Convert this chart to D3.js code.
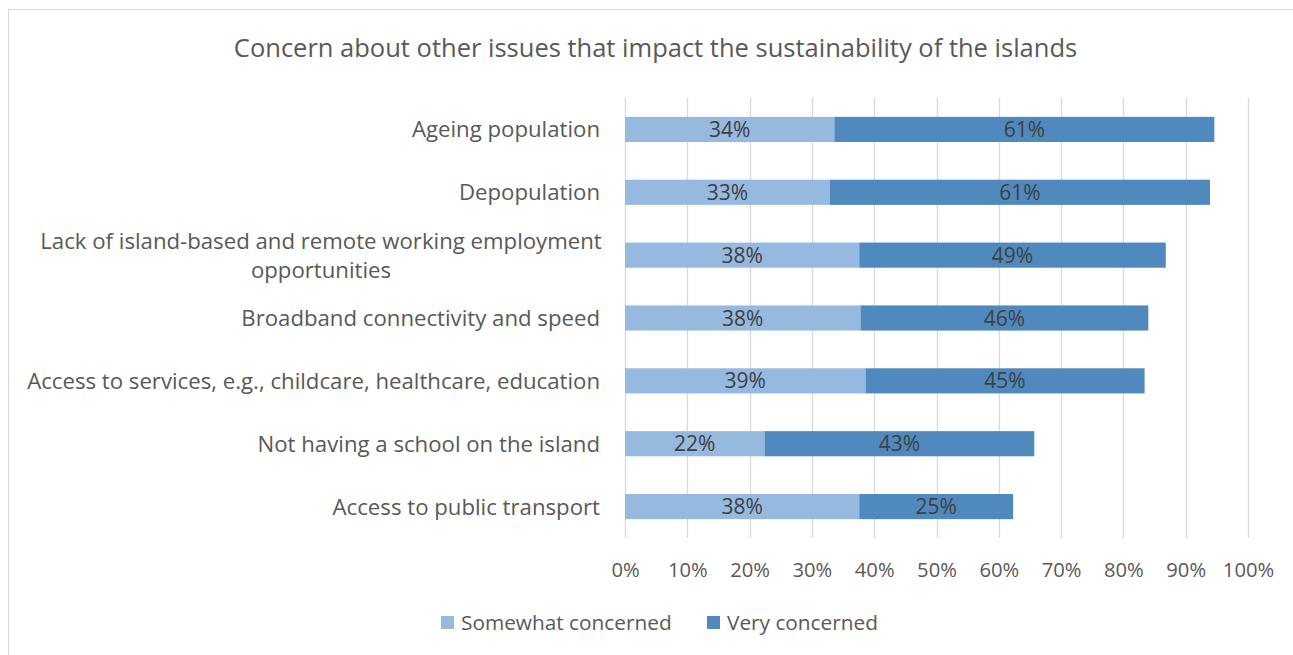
<!DOCTYPE html>
<html>
<head>
<meta charset="utf-8">
<script src="https://cdn.jsdelivr.net/npm/d3@7"></script>
<style>
  html, body { margin: 0; padding: 0; background: #fff; }
  svg { display: block; font-family: "Open Sans", "Noto Sans", sans-serif; }
</style>
</head>
<body>
<svg id="chart" width="1293" height="655"></svg>
<script>
// Survey issues, top to bottom
const categories = [
  "Ageing population",
  "Depopulation",
  "Lack of island-based and remote working employment opportunities",
  "Broadband connectivity and speed",
  "Access to services, e.g., childcare, healthcare, education",
  "Not having a school on the island",
  "Access to public transport"
];
// Share of respondents (%) per concern level
const somewhatConcerned = [33.6, 32.9, 37.6, 37.8, 38.6, 22.4, 37.6];
const veryConcerned     = [61.0, 61.0, 49.2, 46.2, 44.8, 43.3, 24.7];
const seriesNames = ["Somewhat concerned", "Very concerned"];
const seriesColors = ["#96B9E0", "#4F89BE"];
const tickValues = [0, 10, 20, 30, 40, 50, 60, 70, 80, 90, 100];

const svg = d3.select("#chart");
const W = 1293, H = 655;
const plot = { left: 625, right: 1248, top: 98, bottom: 538 };
const textColor = "#595959";
const catFont = 22.2;

// Outer chart frame
svg.append("rect")
  .attr("x", 8.5).attr("y", 9.5)
  .attr("width", W + 20).attr("height", H + 20)
  .attr("fill", "#fff").attr("stroke", "#d9d9d9").attr("stroke-width", 1);

// Title
svg.append("text")
  .attr("x", 655.5).attr("y", 57)
  .attr("text-anchor", "middle")
  .attr("font-size", 25.5)
  .attr("fill", textColor)
  .text("Concern about other issues that impact the sustainability of the islands");

const x = d3.scaleLinear().domain([0, 100]).range([plot.left, plot.right]);
const y = d3.scaleBand().domain(categories)
  .range([plot.top, plot.bottom]).paddingInner(0.6).paddingOuter(0.3);

// Vertical gridlines
svg.append("g").selectAll("line").data(tickValues).join("line")
  .attr("x1", d => Math.round(x(d)) + 0.5).attr("x2", d => Math.round(x(d)) + 0.5)
  .attr("y1", plot.top).attr("y2", plot.bottom)
  .attr("stroke", "#d9d9d9").attr("stroke-width", 1.3);

// X axis tick labels
const xAxis = d3.axisBottom(x).tickValues(tickValues).tickSize(0).tickFormat(d => d + "%");
const gx = svg.append("g").attr("transform", `translate(0,${plot.bottom + 22})`).call(xAxis);
gx.select(".domain").remove();
gx.selectAll("text").attr("font-size", 20.2).attr("fill", textColor)
  .attr("font-family", "\"Open Sans\", sans-serif");

// Stacked series
const rows = categories.map((c, i) => ({ cat: c, s0: somewhatConcerned[i], s1: veryConcerned[i] }));
const stack = d3.stack().keys(["s0", "s1"]);
const layers = stack(rows);

layers.forEach((layer, li) => {
  const g = svg.append("g");
  g.selectAll("rect").data(layer).join("rect")
    .attr("x", d => x(d[0]))
    .attr("y", d => y(d.data.cat))
    .attr("width", d => x(d[1]) - x(d[0]))
    .attr("height", y.bandwidth())
    .attr("fill", seriesColors[li]);
  g.selectAll("text").data(layer).join("text")
    .attr("x", d => (x(d[0]) + x(d[1])) / 2)
    .attr("y", d => y(d.data.cat) + y.bandwidth() / 2)
    .attr("dy", "0.36em")
    .attr("text-anchor", "middle")
    .attr("font-size", 21)
    .attr("fill", "#404040")
    .text(d => Math.round(d[1] - d[0]) + "%");
});

// Category labels, wrapped where too long
const wrapLines = {
  "Lack of island-based and remote working employment opportunities":
    ["Lack of island-based and remote working employment", "opportunities"]
};
const catG = svg.append("g");
categories.forEach(c => {
  const cy = y(c) + y.bandwidth() / 2;
  const lines = wrapLines[c];
  if (lines) {
    const t = catG.append("text")
      .attr("font-size", catFont).attr("fill", textColor).attr("text-anchor", "middle");
    const lh = 29;
    lines.forEach((ln, k) => {
      t.append("tspan")
        .attr("x", 321)
        .attr("y", cy + (k - (lines.length - 1) / 2) * lh)
        .attr("dy", "0.36em")
        .text(ln);
    });
  } else {
    catG.append("text")
      .attr("x", 600).attr("y", cy).attr("dy", "0.36em")
      .attr("text-anchor", "end")
      .attr("font-size", catFont).attr("fill", textColor)
      .text(c);
  }
});

// Legend
const legendPos = [441, 707];
const lg = svg.append("g");
seriesNames.forEach((name, i) => {
  lg.append("rect")
    .attr("x", legendPos[i]).attr("y", 616)
    .attr("width", 13).attr("height", 13)
    .attr("fill", seriesColors[i]);
  lg.append("text")
    .attr("x", legendPos[i] + 20).attr("y", 622.5).attr("dy", "0.36em")
    .attr("font-size", 20.8).attr("fill", textColor)
    .text(name);
});
</script>
</body>
</html>
